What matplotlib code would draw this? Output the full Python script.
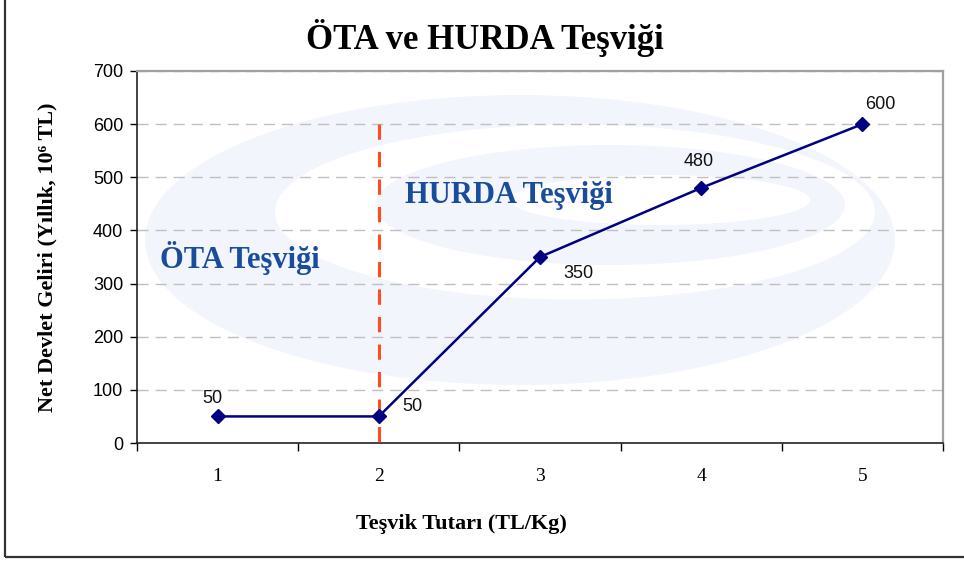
import numpy as np
import matplotlib.pyplot as plt
from matplotlib.patches import Ellipse, Rectangle

plt.rcParams["font.family"] = ["Liberation Serif", "DejaVu Serif"]
plt.rcParams["axes.unicode_minus"] = False

# ============================================================
# Veri
# ============================================================
tesvik = [1, 2, 3, 4, 5]                 # Teşvik Tutarı (TL/Kg)
gelir = [50, 50, 350, 480, 600]          # Net Devlet Geliri (10^6 TL)
etiket_konum = [(-4, 13), (24, 7), (28, -12), (-2, 19), (13, 14)]  # offset points

sinir_x = 2
sinir_ust = 600
sinir_alt = -17

y_ticks = [0, 100, 200, 300, 400, 500, 600, 700]

# ============================================================
# Şekil
# ============================================================
fig = plt.figure(figsize=(9.64, 5.61), dpi=100)
ax = fig.add_axes([137 / 964, 118 / 561, 806 / 964, 372 / 561])

# dış çerçeve
fig.patches.append(Rectangle((5 / 964, 4 / 561), 1.2, 1.2,
                             transform=fig.transFigure, fill=False,
                             edgecolor="#333333", linewidth=1.6))

# arka plan logosu (soluk)
def px(x, y):
    return ((x - 137) / 806, (443 - y) / 372)

soluk = "#f2f5fc"
for (cx, cy, w, h, renk) in [
    (520, 240, 750, 290, soluk),
    (575, 212, 600, 175, "white"),
    (610, 205, 470, 120, soluk),
    (660, 200, 300, 50, "white"),
]:
    x0, y0 = px(cx, cy)
    ax.add_patch(Ellipse((x0, y0), w / 806, h / 372, transform=ax.transAxes,
                         facecolor=renk, edgecolor="none", zorder=0))

# ızgara
for yt in y_ticks[1:]:
    ax.axhline(yt, color="#c0c0c0", linestyle=(0, (8, 5)), linewidth=1.0, zorder=1)

# ÖTA / HURDA sınırı
ax.plot([sinir_x, sinir_x], [sinir_ust, sinir_alt], color="#ff4b1f",
        linestyle=(0, (5, 4)), linewidth=2.2, clip_on=False, zorder=3)

# veri çizgisi
ax.plot(tesvik, gelir, color="#000080", linewidth=1.8, marker="D",
        markersize=7, zorder=4)

for x, y, (dx, dy) in zip(tesvik, gelir, etiket_konum):
    ax.annotate(f"{y}", (x, y), xytext=(dx, dy), textcoords="offset points",
                ha="center", va="center", fontsize=13,
                family=["Liberation Sans", "DejaVu Sans"], color="#111111")

ax.text(0.64, 348, "ÖTA Teşviği", fontsize=22, fontweight="bold",
        color="#1a4c9c", va="center", ha="left", zorder=5)
ax.text(2.16, 465, "HURDA Teşviği", fontsize=22, fontweight="bold",
        color="#1a4c9c", va="center", ha="left", zorder=5)

# eksenler
ax.set_xlim(0.5, 5.5)
ax.set_ylim(0, 700)
ax.set_yticks(y_ticks)
ax.set_yticklabels([str(v) for v in y_ticks],
                   family=["Liberation Sans", "DejaVu Sans"], fontsize=13)
ax.set_xticks(tesvik)
ax.set_xticklabels([str(v) for v in tesvik], fontsize=14)
ax.set_xticks(np.arange(0.5, 6.0, 1.0), minor=True)
ax.tick_params(axis="x", which="major", length=0, pad=18)
ax.tick_params(axis="x", which="minor", length=6, width=1, direction="out")
ax.tick_params(axis="y", length=5, width=1, direction="out", pad=5)

for s in ["left", "bottom"]:
    ax.spines[s].set_color("#222222")
    ax.spines[s].set_linewidth(1.2)
for s in ["top", "right"]:
    ax.spines[s].set_color("#a0a0a0")
    ax.spines[s].set_linewidth(1.6)

ax.set_xlabel("Teşvik Tutarı (TL/Kg)", fontsize=16, fontweight="bold")
ax.xaxis.set_label_coords(0.402, -0.19)
ax.set_ylabel("Net Devlet Geliri (Yıllık, 10⁶ TL)", fontsize=16,
              fontweight="bold")
ax.yaxis.set_label_coords(-0.099, 0.5)

fig.text(485 / 964, 1 - 38 / 561, "ÖTA ve HURDA Teşviği", ha="center",
         va="center", fontsize=25, fontweight="bold")

fig.savefig("out.png", dpi=100)
